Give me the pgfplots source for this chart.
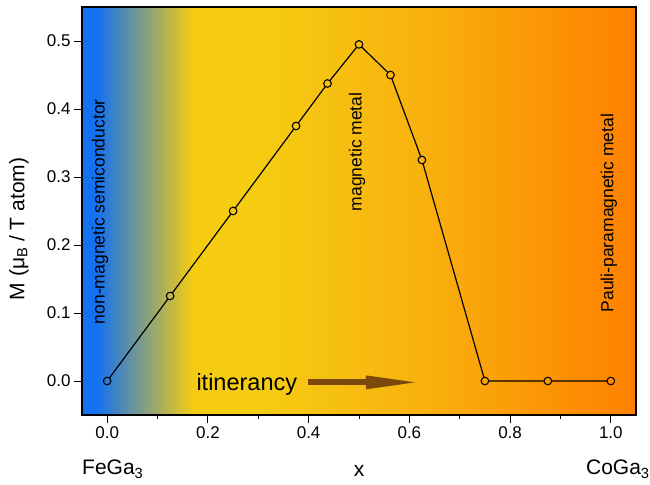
\documentclass[border=0pt]{standalone}
\usepackage{pgfplots}
\pgfplotsset{compat=1.18}
\usepackage{fontspec}
\setmainfont{Liberation Sans}
\usetikzlibrary{arrows.meta}

\definecolor{bgblue}{RGB}{20,114,240}
\definecolor{bgyel}{RGB}{245,204,18}
\definecolor{bgyel2}{RGB}{248,180,14}
\definecolor{bgor}{RGB}{255,128,0}
\definecolor{arrbrown}{RGB}{125,72,12}

\begin{document}
\begin{tikzpicture}
\begin{axis}[
  at={(0,0)}, anchor=south west,
  scale only axis, width=554bp, height=408bp,
  xmin=-0.05, xmax=1.05, ymin=-0.05, ymax=0.55,
  xtick={0,0.2,...,1.0}, ytick={0,0.1,...,0.5},
  minor x tick num=1,
  xtick pos=left, ytick pos=left,
  tick align=outside,
  major tick length=8bp, minor tick length=4bp,
  axis line style={line width=1.3pt},
  every tick/.style={line width=1pt, black},
  tick label style={font=\fontsize{17bp}{20bp}\selectfont},
  /pgf/number format/assume math mode=true,
  /pgf/number format/.cd, fixed, fixed zerofill, precision=1,
  /pgfplots/.cd,
  ylabel={M (μ\textsubscript{B} / T atom)},
  ylabel style={font=\fontsize{21bp}{24bp}\selectfont, at={(axis description cs:-0.114,0.456)}, anchor=center},
  % colormap matching the background (position = 100*x + 5)
  colormap={bgmap}{rgb255(0cm)=(20,114,240); rgb255(3cm)=(20,114,240);
    rgb255(22cm)=(245,204,18); rgb255(35cm)=(245,204,18);
    rgb255(65cm)=(248,180,14); rgb255(110cm)=(255,128,0)},
  point meta min=-0.05, point meta max=1.05,
  axis on top,
  clip=false,
]
% background gradient
\fill[bgblue] (axis cs:-0.05,-0.05) rectangle (axis cs:-0.02,0.55);
\fill[left color=bgblue, right color=bgyel, draw=none] (axis cs:-0.02,-0.05) rectangle (axis cs:0.17,0.55);
\fill[bgyel] (axis cs:0.17,-0.05) rectangle (axis cs:0.3,0.55);
\fill[left color=bgyel, right color=bgyel2, draw=none] (axis cs:0.3,-0.05) rectangle (axis cs:0.6,0.55);
\fill[left color=bgyel2, right color=bgor, draw=none] (axis cs:0.6,-0.05) rectangle (axis cs:1.05,0.55);

\addplot[black, line width=1.2pt, mark=*, mark size=3.8bp,
  scatter, point meta=x,
  scatter/use mapped color={draw=black, fill=mapped color},
  mark options={line width=1.1pt}]
  coordinates {(0,0)(0.125,0.125)(0.25,0.25)(0.375,0.375)(0.4375,0.4375)(0.5,0.495)
               (0.5625,0.45)(0.625,0.325)(0.75,0)(0.875,0)(1,0)};

\node[rotate=90, font=\fontsize{17.5bp}{20bp}\selectfont] at (axis cs:-0.014,0.249) {non-magnetic semiconductor};
\node[rotate=90, font=\fontsize{17.5bp}{20bp}\selectfont] at (axis cs:0.496,0.337) {magnetic metal};
\node[rotate=90, font=\fontsize{17.5bp}{20bp}\selectfont] at (axis cs:0.996,0.247) {Pauli-paramagnetic metal};
\node[anchor=base west, inner sep=0pt, font=\fontsize{23.5bp}{26bp}\selectfont] at (axis cs:0.177,-0.0135) {itinerancy};
\draw[arrbrown, line width=6bp, -{Triangle[length=56bp, width=12bp]}] (axis cs:0.399,-0.002) -- (axis cs:0.625,-0.002);

\node[anchor=base west, inner sep=0pt, font=\fontsize{21bp}{24bp}\selectfont] at (axis description cs:0,-0.147) {FeGa\textsubscript{3}};
\node[anchor=base east, inner sep=0pt, font=\fontsize{21bp}{24bp}\selectfont] at (axis description cs:1.025,-0.147) {CoGa\textsubscript{3}};
\node[anchor=base, inner sep=0pt, font=\fontsize{21bp}{24bp}\selectfont] at (axis description cs:0.5,-0.15) {x};
\end{axis}
\pgfresetboundingbox
\path (-82bp,-70bp) rectangle (568bp,415bp);
\end{tikzpicture}
\end{document}
